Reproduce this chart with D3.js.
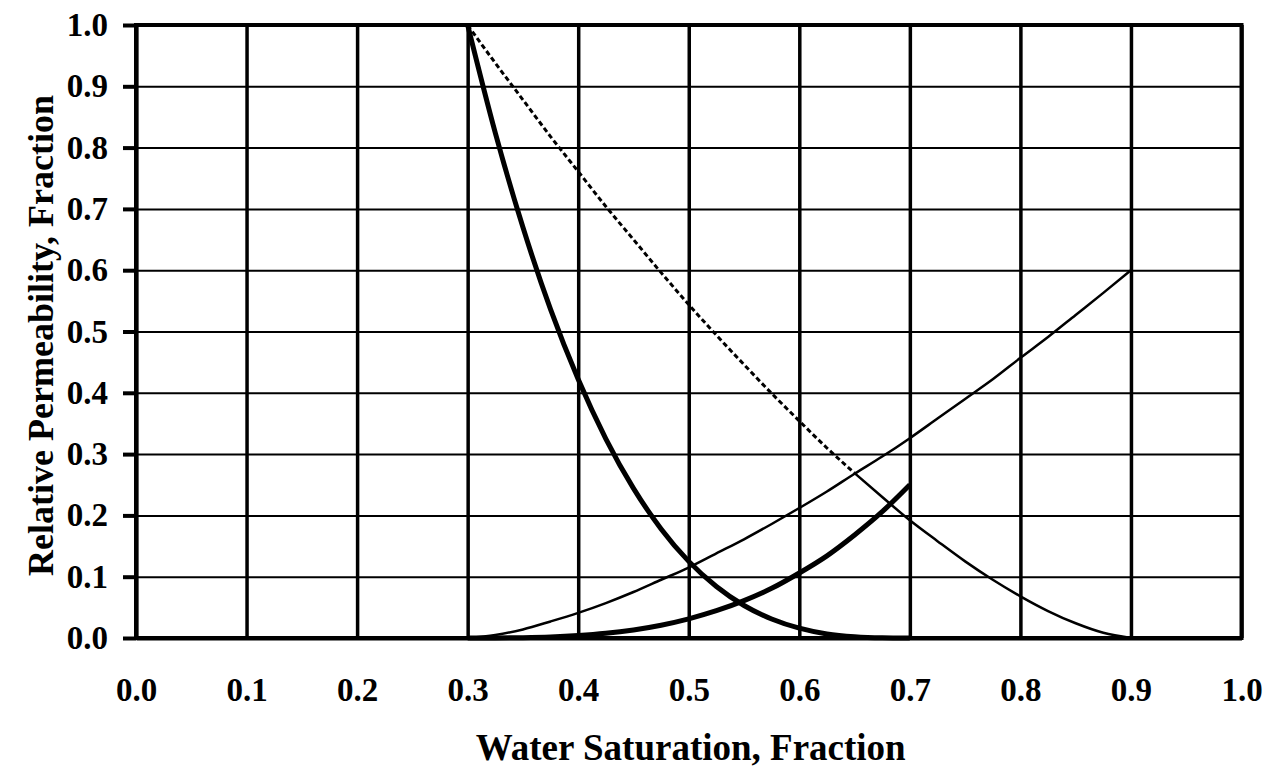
<!DOCTYPE html>
<html>
<head>
<meta charset="utf-8">
<script src="https://cdn.jsdelivr.net/npm/d3@7"></script>
<style>
  html, body { margin: 0; padding: 0; background: #fff; }
  svg { display: block; }
  text { font-family: "Liberation Serif", "Times New Roman", serif; font-weight: bold; fill: #000; }
</style>
</head>
<body>
<svg id="chart" width="1270" height="767"></svg>
<script>
// ---- data ----
const xTicks = [0.0, 0.1, 0.2, 0.3, 0.4, 0.5, 0.6, 0.7, 0.8, 0.9, 1.0];
const yTicks = [0.0, 0.1, 0.2, 0.3, 0.4, 0.5, 0.6, 0.7, 0.8, 0.9, 1.0];
const xTitle = "Water Saturation, Fraction";
const yTitle = "Relative Permeability, Fraction";

// thick curves (Sw 0.30 .. 0.70)
const swShort = [0.300, 0.325, 0.350, 0.375, 0.400, 0.425, 0.450, 0.475, 0.500,
                 0.525, 0.550, 0.575, 0.600, 0.625, 0.650, 0.675, 0.700];
const kroThick = [1.000, 0.824, 0.670, 0.536, 0.422, 0.325, 0.244, 0.178, 0.125,
                  0.084, 0.053, 0.031, 0.016, 0.0066, 0.0020, 0.0003, 0.000];
const krwThick = [0.000, 0.0001, 0.0005, 0.0016, 0.0039, 0.0076, 0.0132, 0.0209, 0.0313,
                  0.0445, 0.061, 0.081, 0.106, 0.134, 0.168, 0.206, 0.250];

// thin curves (Sw 0.30 .. 0.90)
const swLong = [0.300, 0.325, 0.350, 0.375, 0.400, 0.425, 0.450, 0.475, 0.500,
                0.525, 0.550, 0.575, 0.600, 0.625, 0.650, 0.675, 0.700, 0.725,
                0.750, 0.775, 0.800, 0.825, 0.850, 0.875, 0.900];
const kroThin = [1.000, 0.938, 0.878, 0.818, 0.761, 0.704, 0.650, 0.596, 0.544,
                 0.494, 0.446, 0.399, 0.354, 0.310, 0.269, 0.230, 0.192, 0.158,
                 0.125, 0.095, 0.068, 0.044, 0.024, 0.0085, 0.000];
const krwThin = [0.000, 0.005, 0.014, 0.027, 0.041, 0.057, 0.075, 0.095, 0.115,
                 0.138, 0.161, 0.186, 0.212, 0.239, 0.268, 0.296, 0.326, 0.358,
                 0.390, 0.422, 0.457, 0.491, 0.527, 0.563, 0.600];
const dashEndSw = 0.65;  // thin decreasing curve is dashed up to about here

// ---- layout ----
const svg = d3.select("#chart");
const margin = { left: 136, top: 25 };
const W = 1105.5, H = 613;
const g = svg.append("g").attr("transform", `translate(${margin.left},${margin.top})`);

const x = d3.scaleLinear().domain([0, 1]).range([0, W]);
const y = d3.scaleLinear().domain([0, 1]).range([H, 0]);

// vertical grid (thick)
const vg = g.append("g").attr("transform", `translate(0,${H})`)
  .call(d3.axisBottom(x).tickValues(xTicks).tickSize(-H).tickFormat(""));
vg.select(".domain").remove();
vg.selectAll(".tick line").attr("stroke", "#000").attr("stroke-width", 3.5);

// horizontal grid (thin)
const hg = g.append("g")
  .call(d3.axisLeft(y).tickValues(yTicks).tickSize(-W).tickFormat(""));
hg.select(".domain").remove();
hg.selectAll(".tick line").attr("stroke", "#000").attr("stroke-width", 2);

// curves
const line = d3.line().x(d => x(d[0])).y(d => y(d[1])).curve(d3.curveMonotoneX);
const zip = (a, b) => a.map((v, i) => [v, b[i]]);

const kroThinPts = zip(swLong, kroThin);
g.append("path").datum(kroThinPts.filter(d => d[0] <= dashEndSw + 1e-9))
  .attr("d", line).attr("fill", "none").attr("stroke", "#000")
  .attr("stroke-width", 3).attr("stroke-dasharray", "5,3");
g.append("path").datum(kroThinPts.filter(d => d[0] >= dashEndSw - 1e-9))
  .attr("d", line).attr("fill", "none").attr("stroke", "#000")
  .attr("stroke-width", 2.5);

g.append("path").datum(zip(swLong, krwThin))
  .attr("d", line).attr("fill", "none").attr("stroke", "#000").attr("stroke-width", 2.5);

g.append("path").datum(zip(swShort, kroThick))
  .attr("d", line).attr("fill", "none").attr("stroke", "#000").attr("stroke-width", 5);
g.append("path").datum(zip(swShort, krwThick))
  .attr("d", line).attr("fill", "none").attr("stroke", "#000").attr("stroke-width", 5);

// border (top / right)
g.append("rect").attr("x", 0).attr("y", 0).attr("width", W).attr("height", H)
  .attr("fill", "none").attr("stroke", "#000").attr("stroke-width", 4);

// y axis with outward ticks
const ya = g.append("g")
  .call(d3.axisLeft(y).tickValues(yTicks).tickSize(13).tickSizeOuter(0).tickPadding(15)
    .tickFormat(d3.format(".1f")));
ya.select(".domain").attr("stroke", "#000").attr("stroke-width", 4);
ya.selectAll(".tick line").attr("stroke", "#000").attr("stroke-width", 4);
ya.selectAll("text").attr("font-size", 33).attr("font-family", "Liberation Serif").attr("font-weight", "bold");

// x axis labels
const xa = g.append("g").attr("transform", `translate(0,${H})`)
  .call(d3.axisBottom(x).tickValues(xTicks).tickSize(0).tickSizeOuter(0).tickPadding(40)
    .tickFormat(d3.format(".1f")));
xa.select(".domain").attr("stroke", "#000").attr("stroke-width", 4);
xa.selectAll("text").attr("font-size", 33).attr("font-family", "Liberation Serif").attr("font-weight", "bold");

// axis titles
svg.append("text").attr("x", margin.left + W / 2 + 2).attr("y", 760)
  .attr("text-anchor", "middle").attr("font-size", 37).text(xTitle);
svg.append("text").attr("transform", `translate(53,${margin.top + H / 2 + 4}) rotate(-90)`)
  .attr("text-anchor", "middle").attr("font-size", 36).text(yTitle);
</script>
</body>
</html>
